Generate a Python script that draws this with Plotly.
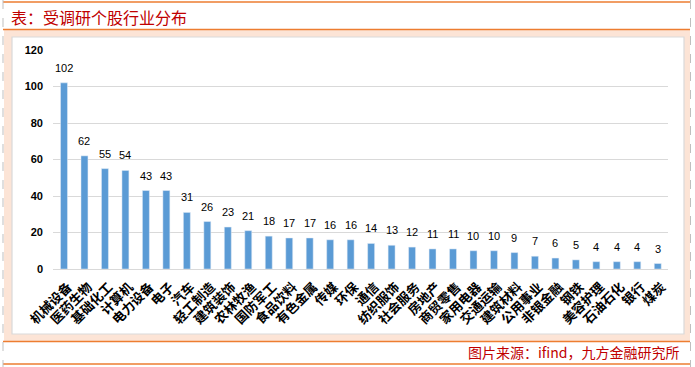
import plotly.graph_objects as go

categories = ["机械设备", "医药生物", "基础化工", "计算机", "电力设备", "电子", "汽车", "轻工制造",
              "建筑装饰", "农林牧渔", "国防军工", "食品饮料", "有色金属", "传媒", "环保", "通信",
              "纺织服饰", "社会服务", "房地产", "商贸零售", "家用电器", "交通运输", "建筑材料",
              "公用事业", "非银金融", "钢铁", "美容护理", "石油石化", "银行", "煤炭"]
values = [102, 62, 55, 54, 43, 43, 31, 26, 23, 21, 18, 17, 17, 16, 16, 14,
          13, 12, 11, 11, 10, 10, 9, 7, 6, 5, 4, 4, 4, 3]
y_ticks = [0, 20, 40, 60, 80, 100, 120]
title_text = "表：受调研个股行业分布"
source_text = "图片来源：ifind，九方金融研究所"

W, H = 695, 367
L, R, T, B = 53, 27, 50, 98
PW, PH = W - L - R, H - T - B


def px(x):
    return (x - L) / PW


def py(y):
    return (H - B - y) / PH


fig = go.Figure()
fig.add_trace(go.Bar(x=categories, y=values, marker_color="#5B9BD5", width=0.34,
                     hoverinfo="x+y"))

for c, v in zip(categories, values):
    fig.add_annotation(x=c, y=v, text=str(v), showarrow=False, yanchor="bottom",
                       yshift=7, font=dict(family="Liberation Sans", size=11, color="#000000"))

shapes = [
    dict(type="rect", xref="paper", yref="paper", x0=px(4), x1=px(690), y0=py(30), y1=py(341.5),
         fillcolor="#FCE4D6", line_width=0, layer="below"),
    dict(type="rect", xref="paper", yref="paper", x0=px(12), x1=px(684), y0=py(37), y1=py(334),
         fillcolor="#FFFFFF", line=dict(color="#D9D9D9", width=1.2), layer="below"),
]
for yy in [2, 29.5, 341.5, 364]:
    shapes.append(dict(type="line", xref="paper", yref="paper", x0=px(3), x1=px(690),
                       y0=py(yy), y1=py(yy), line=dict(color="#ED7D31", width=1.5), layer="above"))
for xx in [3, 690.5]:
    shapes.append(dict(type="line", xref="paper", yref="paper", x0=px(xx), x1=px(xx),
                       y0=py(0), y1=py(367), line=dict(color="#BFBFBF", width=1, dash="dash"),
                       layer="above"))

fig.add_annotation(xref="paper", yref="paper", x=px(9), y=py(17), xanchor="left", yanchor="middle",
                   text=title_text, showarrow=False,
                   font=dict(family="Noto Sans CJK SC", size=16, color="#C00000"))
fig.add_annotation(xref="paper", yref="paper", x=px(681), y=py(352), xanchor="right", yanchor="middle",
                   text=source_text, showarrow=False,
                   font=dict(family="Noto Sans CJK SC", size=14, color="#C00000"))

fig.update_layout(
    width=W, height=H, margin=dict(l=L, r=R, t=T, b=B, autoexpand=False),
    paper_bgcolor="#FFFFFF", plot_bgcolor="#FFFFFF",
    shapes=shapes, showlegend=False, bargap=0.66,
    xaxis=dict(tickangle=-45, showgrid=False, showline=False, ticks="", automargin=False,
               ticklabelstandoff=7, ticklabelshift=4,
               tickfont=dict(family="Noto Sans CJK SC", size=13, color="#000000", weight="bold")),
    yaxis=dict(range=[0, 120], tickvals=y_ticks, showgrid=True, gridcolor="#D9D9D9", gridwidth=1,
               zeroline=True, zerolinecolor="#D9D9D9", zerolinewidth=1, showline=False, ticks="",
               ticklabelstandoff=9, automargin=False,
               tickfont=dict(family="Liberation Sans", size=11, color="#000000", weight="bold")),
)

fig.write_html("out.html", config={"displayModeBar": False},
               post_script="document.body.style.margin='0px';document.body.style.padding='0px';")
